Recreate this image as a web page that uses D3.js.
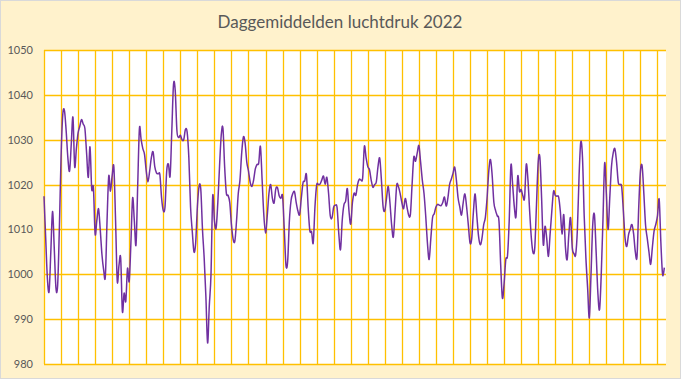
<!DOCTYPE html>
<html>
<head>
<meta charset="utf-8">
<script src="https://cdn.jsdelivr.net/npm/d3@7"></script>
<style>
  html, body { margin: 0; padding: 0; background: #fff; }
  svg { display: block; }
</style>
</head>
<body>
<div id="chart"></div>
<script>
// daily mean air pressure (hPa), one array per month
var jan = [1017.4, 1008, 999, 996.2, 1005, 1014, 1006, 997, 997.5, 1010, 1026, 1035.5, 1036.5, 1032, 1026, 1023,
           1029, 1035, 1024, 1028, 1031.5, 1033, 1034.5, 1033.5, 1032.5, 1027, 1021.6, 1028.4, 1019, 1019.3, 1009];
var feb = [1012, 1014.6, 1010, 1004.4, 1001, 999.5, 1012, 1021.9, 1018.5, 1022, 1023.9, 1012, 998.4, 1002,
           1003.6, 991.7, 995.8, 994, 1001.3, 998.4, 1007, 1017, 1012, 1006.6, 1020, 1032.5, 1030, 1028];
var mar = [1026.7, 1023, 1020.6, 1023, 1026, 1027.3, 1024, 1022.6, 1022.4, 1022.2, 1017, 1014.2, 1015, 1023, 1024.6,
           1021.9, 1032, 1042.3, 1041, 1032, 1030.5, 1031, 1030, 1030, 1032.3, 1031.7, 1026, 1015, 1009.6, 1005, 1007];
var apr = [1015, 1019.6, 1019, 1010, 1003.6, 995, 984.7, 993, 1000, 1017.4, 1012, 1010.3, 1016, 1024, 1031,
           1032.6, 1024, 1018.1, 1017.6, 1016, 1011, 1007.8, 1007.4, 1012, 1018, 1021, 1027, 1030.6, 1029.3, 1025];
var may = [1023, 1020.5, 1019.6, 1021, 1023.5, 1024.5, 1024.8, 1028.5, 1021, 1013.2, 1009.2, 1013, 1018, 1020, 1017,
           1015.9, 1019, 1019.3, 1017.5, 1016.9, 1017.4, 1010, 1002, 1003, 1012, 1016.5, 1018, 1018.4, 1016, 1014.1, 1013.3];
var jun = [1017, 1020.4, 1020.8, 1022.2, 1015, 1009.7, 1009.5, 1007, 1015, 1019.9, 1020, 1020.1, 1021, 1021.9, 1020.1,
           1021.6, 1018, 1013, 1012.6, 1015, 1015.4, 1014.8, 1009, 1005.5, 1012, 1015.5, 1016.3, 1019.1, 1014, 1011.2];
var jul = [1016, 1018.1, 1017.6, 1020, 1021.2, 1021, 1021.5, 1028.5, 1026, 1024, 1023.3, 1021, 1019.4, 1020, 1020.6,
           1024, 1025.9, 1021, 1015, 1014.2, 1017, 1019.6, 1016, 1011, 1008.3, 1014, 1019.9, 1019.5, 1018, 1016, 1014.6];
var aug = [1016.9, 1015, 1013.2, 1013.3, 1020, 1026.1, 1025.2, 1027, 1028.7, 1025, 1021, 1018, 1013, 1007, 1003.3,
           1008, 1012.6, 1013.5, 1015, 1015.6, 1015.4, 1015.3, 1016, 1017.2, 1015.2, 1017, 1020, 1021.2, 1022.5, 1023.9, 1021];
var sep = [1017, 1015, 1013.2, 1016, 1017.9, 1015, 1011, 1007, 1008, 1014, 1017.9, 1013, 1008.5, 1006.6, 1008,
           1011, 1012.7, 1017, 1023, 1025.6, 1022, 1016, 1014.2, 1013, 1011.8, 1002, 994.7, 998, 1003.3, 1004.2];
var oct = [1012, 1024.3, 1020, 1015, 1012.9, 1021.9, 1018.5, 1018.9, 1017.5, 1017, 1024.5, 1021, 1014, 1008, 1004.8,
           1006, 1015.5, 1025, 1026, 1017, 1006.6, 1010.7, 1008, 1004, 1009, 1014.1, 1018.5, 1017.6, 1017.4, 1017.2, 1014];
var nov = [1009, 1013.3, 1006, 1003.3, 1009, 1012.6, 1005.9, 1004.6, 1004.4, 1010, 1022, 1029.5, 1026, 1013, 1003.6,
           997, 990.3, 1000, 1011, 1013.3, 1005, 996, 992.1, 1000, 1012, 1024.8, 1018, 1010, 1017, 1024];
var dec = [1027, 1028, 1025, 1020.5, 1020, 1019.5, 1014, 1008, 1006.2, 1008.8, 1010, 1011.1, 1009, 1005, 1004,
           1015, 1023, 1024.1, 1018, 1011, 1008, 1005, 1002.2, 1006, 1009.6, 1011.1, 1013, 1016.7, 1007, 999.9, 1001.5];

var yTicks = [980, 990, 1000, 1010, 1020, 1030, 1040, 1050];
var title = "Daggemiddelden luchtdruk 2022";

var pressure = [].concat(jan, feb, mar, apr, may, jun, jul, aug, sep, oct, nov, dec);

var W = 681, H = 379;
var plotL = 44, plotR = 666, plotT = 50, plotB = 364;

var svg = d3.select('#chart').append('svg')
    .attr('width', W)
    .attr('height', H);

svg.append('rect')
    .attr('x', 0.5).attr('y', 0.5)
    .attr('width', W - 1).attr('height', H - 1)
    .attr('fill', '#FFF2CC')
    .attr('stroke', '#D9D9D9');

svg.append('rect')
    .attr('x', plotL).attr('y', plotT)
    .attr('width', plotR - plotL).attr('height', plotB - plotT)
    .attr('fill', '#fff');

var x = d3.scaleLinear().domain([0, 365]).range([plotL, plotR]);
var y = d3.scaleLinear().domain([980, 1050]).range([plotB, plotT]);

// vertical gridlines every 10 days
var xGrid = d3.range(0, 361, 10);
svg.append('g').selectAll('line')
    .data(xGrid)
    .enter()
    .append('line')
    .attr('x1', function (d) { return Math.round(x(d)) + 0.5; })
    .attr('x2', function (d) { return Math.round(x(d)) + 0.5; })
    .attr('y1', plotT)
    .attr('y2', plotB)
    .attr('stroke', '#FFC000')
    .attr('stroke-width', 1.3);

// horizontal gridlines
svg.append('g').selectAll('line')
    .data(yTicks)
    .enter()
    .append('line')
    .attr('x1', plotL)
    .attr('x2', plotR)
    .attr('y1', function (d) { return Math.round(y(d)) + 0.5; })
    .attr('y2', function (d) { return Math.round(y(d)) + 0.5; })
    .attr('stroke', '#FFC000')
    .attr('stroke-width', 1.3);

var yAxis = d3.axisLeft(y).tickValues(yTicks).tickFormat(d3.format('d')).tickSize(0).tickPadding(11);
var ya = svg.append('g')
    .attr('transform', 'translate(' + plotL + ',0)')
    .call(yAxis);
ya.select('.domain').remove();
ya.selectAll('text')
    .attr('fill', '#595959')
    .style('font-family', 'Lato, "Liberation Sans", sans-serif')
    .style('font-size', '11px');

var line = d3.line()
    .x(function (d, i) { return x(i); })
    .y(function (d) { return y(d); })
    .curve(d3.curveCatmullRom.alpha(0));

svg.append('path')
    .datum(pressure)
    .attr('d', line)
    .attr('fill', 'none')
    .attr('stroke', '#7030A0')
    .attr('stroke-width', 1.5)
    .attr('stroke-linejoin', 'round');

svg.append('text')
    .attr('x', 340)
    .attr('y', 28)
    .attr('text-anchor', 'middle')
    .attr('fill', '#595959')
    .style('font-family', 'Lato, "Liberation Sans", sans-serif')
    .style('font-size', '17px')
    .text(title);
</script>
</body>
</html>
